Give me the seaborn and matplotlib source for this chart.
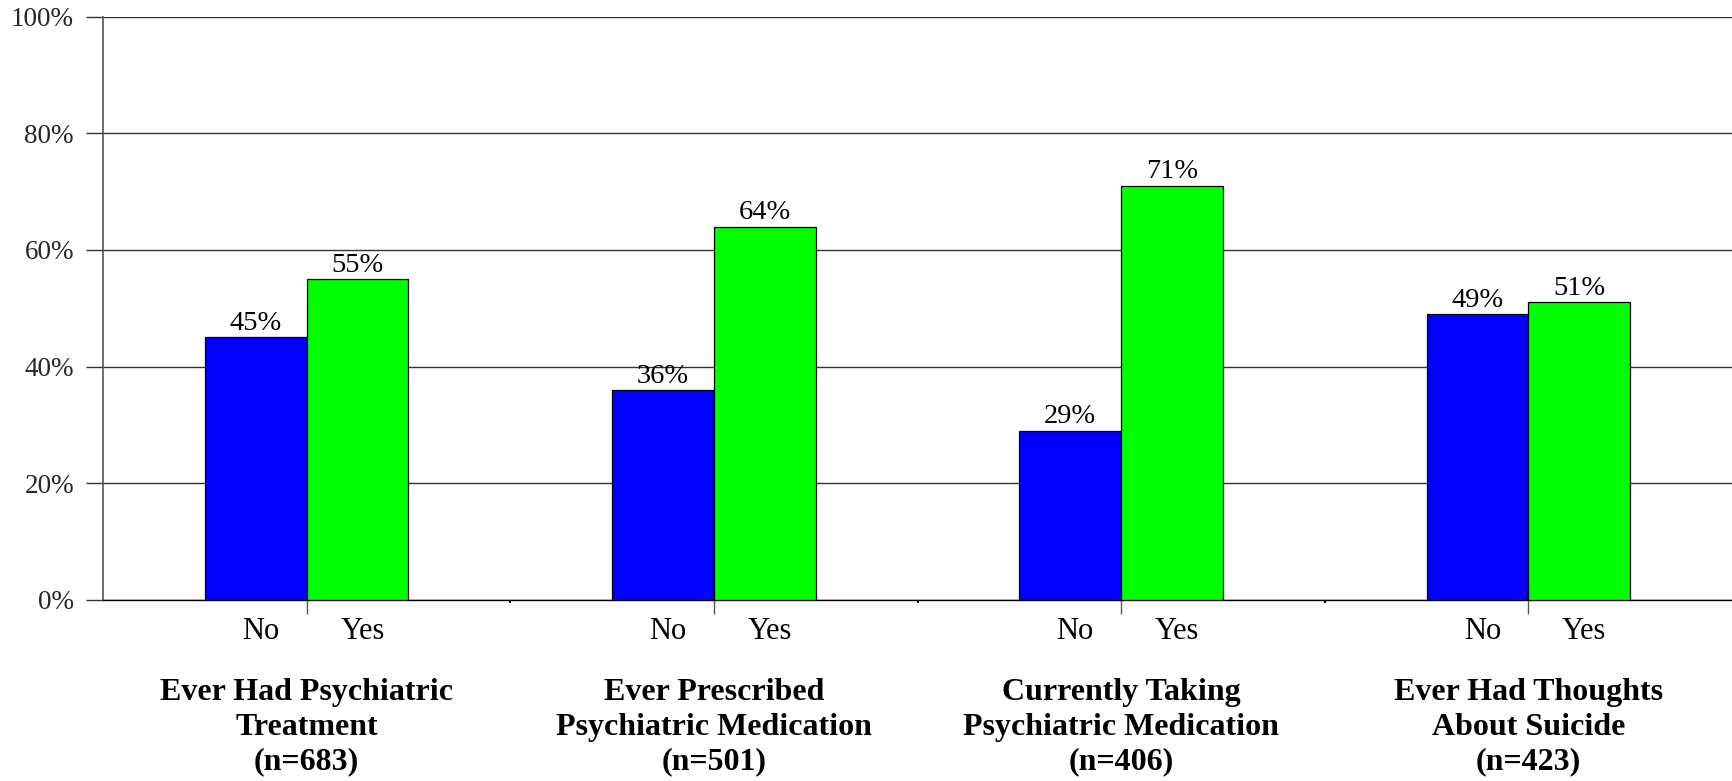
import matplotlib
matplotlib.use("Agg")
import matplotlib.pyplot as plt
import matplotlib.transforms as mtransforms
from matplotlib.ticker import FixedLocator, FuncFormatter
import pandas as pd
import seaborn as sns

# Survey items, sample sizes and response shares (%)
items = [
    "Ever Had Psychiatric\nTreatment",
    "Ever Prescribed\nPsychiatric Medication",
    "Currently Taking\nPsychiatric Medication",
    "Ever Had Thoughts\nAbout Suicide",
]
sample_sizes = [683, 501, 406, 423]
responses = ["No", "Yes"]
pct_no = [45, 36, 29, 49]
pct_yes = [55, 64, 71, 51]
bar_colors = {"No": "#0000FF", "Yes": "#00FF00"}

df = pd.DataFrame({
    "item": items * 2,
    "response": ["No"] * len(items) + ["Yes"] * len(items),
    "pct": pct_no + pct_yes,
})

sns.set_theme(style="white")
plt.rcParams["font.family"] = ["Liberation Serif", "DejaVu Serif"]

fig = plt.figure(figsize=(17.32, 7.81), dpi=100)
ax = fig.add_axes([0.0595, 0.2318, 0.9405, 0.7469])

sns.barplot(data=df, x="item", y="pct", hue="response", order=items,
            hue_order=responses, palette=bar_colors, width=0.5,
            edgecolor="black", linewidth=0.9, saturation=1,
            legend=False, ax=ax, zorder=3)

ax.set_xlim(-0.5, len(items) - 0.5)
ax.set_ylim(0, 100)
ax.set_xlabel("")
ax.set_ylabel("")

# horizontal grid, drawn under the bars
ax.yaxis.set_major_locator(FixedLocator([0, 20, 40, 60, 80, 100]))
ax.yaxis.set_major_formatter(FuncFormatter(lambda v, _: f"{v:.0f}%"))
ax.grid(axis="y", color="#333333", linewidth=1.0, zorder=0)
ax.set_axisbelow(True)
ax.tick_params(axis="y", direction="out", length=12, width=1.0,
               color="#333333", pad=9, labelsize=19.5, left=True)

# x ticks: long ticks between each No/Yes pair, tiny ticks between items
ax.set_xticks(range(len(items)))
ax.set_xticklabels([""] * len(items))
ax.set_xticks([i + 0.5 for i in range(len(items) - 1)], minor=True)
ax.tick_params(axis="x", which="major", direction="out", length=10,
               width=1.0, color="#555555", bottom=True)
ax.tick_params(axis="x", which="minor", direction="out", length=2,
               width=1.5, color="#000000", bottom=True)

for side in ["top", "right"]:
    ax.spines[side].set_visible(False)
ax.spines["left"].set_color("#555555")
ax.spines["left"].set_linewidth(1.2)
ax.spines["bottom"].set_color("#000000")
ax.spines["bottom"].set_linewidth(1.0)

# value labels on top of each bar
for container in ax.containers:
    ax.bar_label(container, labels=[f"{v:.0f}%" for v in container.datavalues],
                 padding=1, fontsize=20.5, color="black")

# response names beneath each bar and item titles beneath each pair
trans = mtransforms.blended_transform_factory(ax.transData, fig.transFigure)
nudge = mtransforms.ScaledTranslation(5 / 100, 0, fig.dpi_scale_trans)
for container, resp in zip(ax.containers, responses):
    for patch in container.patches:
        cx = patch.get_x() + patch.get_width() / 2
        ax.text(cx, 0.191, resp, transform=trans + nudge, ha="center",
                va="center", fontsize=22, color="black")

for i, (item, n) in enumerate(zip(items, sample_sizes)):
    ax.text(i, 0.069, f"{item}\n(n={n})", transform=trans, ha="center",
            va="center", multialignment="center", fontsize=23,
            fontweight="bold", color="black", linespacing=1.27)

fig.savefig("out.png", dpi=100, facecolor="white")
